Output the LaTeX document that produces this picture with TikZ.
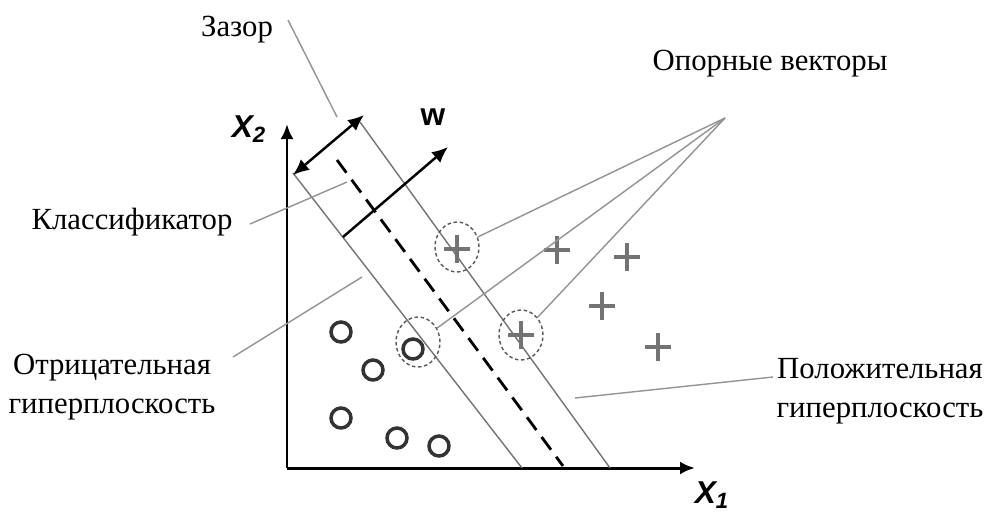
\documentclass[tikz,border=0pt]{standalone}
\usepackage{fontspec}
\setmainfont{Liberation Serif}
\setsansfont{Liberation Sans}
\usepackage{xcolor}
\usetikzlibrary{positioning,arrows.meta,shapes.geometric}

\begin{document}
\begin{tikzpicture}[
  x=0.02cm, y=-0.02cm,
  font=\fontsize{17.5}{22.5}\selectfont,
  lbl/.style={align=center, inner sep=1pt},
  axlbl/.style={font=\fontsize{18}{20}\selectfont\sffamily\bfseries\itshape, inner sep=1pt},
  axis/.style={line width=1.7pt, -{Latex[length=3mm,width=2.6mm]}},
  vec/.style={line width=1.4pt, -{Latex[length=3.2mm,width=2.8mm]}},
  hplane/.style={gray!90!black, line width=0.8pt},
  lead/.style={gray!85, line width=0.8pt},
  sv/.style={draw=black!65, dash pattern=on 2pt off 1.5pt, line width=0.8pt, ellipse, minimum width=0.88cm, minimum height=1cm, inner sep=0pt},
  negmk/.style={draw=black!80, circle, line width=2pt, minimum size=0.4cm, inner sep=0pt},
  plusmk/.style={black!55, line width=2.2pt}]
\useasboundingbox (0,0) rectangle (988,511);
% axes
\coordinate (o) at (287,468);
\coordinate (xend) at (695,468);
\coordinate (yend) at (287,124);
\draw[axis] (o) -- (xend);
\draw[axis] (o) -- (yend);
\node[axlbl] (x1) at (712,495) {X\textsubscript{1}};
\node[axlbl] (x2) at (249,129) {X\textsubscript{2}};
% hyperplanes
\coordinate (na) at (293,173); \coordinate (nb) at (522,468);
\coordinate (ca) at (337,160); \coordinate (cb) at (563,466);
\coordinate (pa) at (360,122); \coordinate (pb) at (610,468);
\draw[hplane] (na) -- (nb);
\draw[hplane] (pa) -- (pb);
\draw[line width=1.6pt, dash pattern=on 9pt off 5pt] (ca) -- (cb);
% margin and normal vector
\coordinate (gapl) at (293,175); \coordinate (gapr) at (364,115);
\draw[vec, {Latex[length=3.2mm,width=2.8mm]}-{Latex[length=3.2mm,width=2.8mm]}] (gapl) -- (gapr);
\coordinate (wa) at (343,237); \coordinate (wb) at (448,147);
\draw[vec] (wa) -- (wb);
\node[font=\fontsize{18}{20}\selectfont\sffamily\bfseries] (w) at (433,117) {w};
% negative samples
\foreach \px/\py [count=\i] in {341/332, 373/370, 413/349, 341/418, 397/438, 439/446}
  \node[negmk] (n\i) at (\px,\py) {};
% positive samples
\foreach \px/\py in {457/249, 521/335, 557/250, 627/257, 602/306, 658/347}
  \draw[plusmk] (\px-13,\py) -- (\px+13,\py) (\px,\py-14) -- (\px,\py+14);
% support vectors
\node[sv] (sv1) at (457,247) {};
\node[sv] (sv2) at (418,342) {};
\node[sv] (sv3) at (521,335) {};
% labels
\node[lbl] (gap) at (237,30) {Зазор};
\node[lbl] (svtxt) at (770,64) {Опорные векторы};
\node[lbl] (cls) at (132,222) {Классификатор};
\node[lbl] (negh) at (112,387) {Отрицательная\\гиперплоскость};
\node[lbl] (posh) at (880,391) {Положительная\\гиперплоскость};
% leaders
\coordinate (hub) at (725,118);
\draw[lead] (hub) -- (sv1);
\draw[lead] (hub) -- (sv2);
\draw[lead] (hub) -- (sv3);
\coordinate (gapf) at (288,20); \coordinate (gapt) at (337,117);
\draw[lead] (gapf) -- (gapt);
\coordinate (clsf) at (250,224); \coordinate (clst) at (347,182);
\draw[lead] (clsf) -- (clst);
\coordinate (negf) at (233,357); \coordinate (negt) at (362,277);
\draw[lead] (negf) -- (negt);
\coordinate (posf) at (773,377); \coordinate (post) at (575,398);
\draw[lead] (posf) -- (post);
\end{tikzpicture}
\end{document}
